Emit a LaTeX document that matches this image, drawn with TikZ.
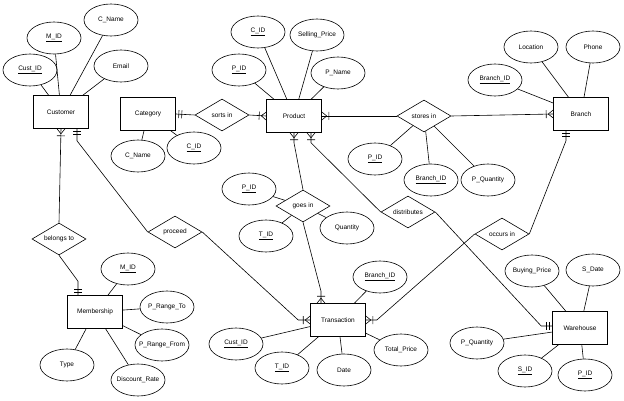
\documentclass[tikz,border=0pt]{standalone}
\usepackage{fontspec}
\setmainfont{Liberation Sans}
\usepackage{tikz}
\usetikzlibrary{shapes.geometric}
\pgfdeclarearrow{
  name=manyone,
  setup code={
    \pgfarrowssettipend{0pt}
    \pgfarrowssetlineend{0pt}
    \pgfarrowssetbackend{-8pt}
    \pgfarrowssetvisualbackend{-8pt}
    \pgfarrowshullpoint{0pt}{4pt}
    \pgfarrowshullpoint{0pt}{-4pt}
    \pgfarrowshullpoint{-8pt}{4pt}
    \pgfarrowshullpoint{-8pt}{-4pt}
  },
  drawing code={
    \pgfsetdash{}{0pt}
    \pgfpathmoveto{\pgfpoint{-5pt}{0pt}}
    \pgfpathlineto{\pgfpoint{0pt}{4pt}}
    \pgfpathmoveto{\pgfpoint{-5pt}{0pt}}
    \pgfpathlineto{\pgfpoint{0pt}{-4pt}}
    \pgfpathmoveto{\pgfpoint{-7pt}{4pt}}
    \pgfpathlineto{\pgfpoint{-7pt}{-4pt}}
    \pgfusepathqstroke
  }
}
\pgfdeclarearrow{
  name=oneone,
  setup code={
    \pgfarrowssettipend{0pt}
    \pgfarrowssetlineend{0pt}
    \pgfarrowssetbackend{-7pt}
    \pgfarrowssetvisualbackend{-7pt}
    \pgfarrowshullpoint{0pt}{4pt}
    \pgfarrowshullpoint{0pt}{-4pt}
    \pgfarrowshullpoint{-7pt}{4pt}
    \pgfarrowshullpoint{-7pt}{-4pt}
  },
  drawing code={
    \pgfsetdash{}{0pt}
    \pgfpathmoveto{\pgfpoint{-3pt}{4pt}}
    \pgfpathlineto{\pgfpoint{-3pt}{-4pt}}
    \pgfpathmoveto{\pgfpoint{-6pt}{4pt}}
    \pgfpathlineto{\pgfpoint{-6pt}{-4pt}}
    \pgfusepathqstroke
  }
}
\tikzset{
  entity/.style={draw, rectangle, minimum width=55pt, minimum height=33pt, inner sep=0pt},
  relation/.style={draw, diamond, aspect=1.7, minimum width=54pt, minimum height=32pt, inner sep=0pt},
  attrib/.style={draw, ellipse, minimum width=54pt, minimum height=32pt, inner sep=0pt, inner xsep=-10pt}
}

\begin{document}
\begin{tikzpicture}[x=1pt, y=-1pt, line width=0.6pt,
    font=\fontsize{6.5}{8}\selectfont]
    \useasboundingbox (0,0) rectangle (624,401);

    \node[entity] (cust) at (61,112) {Customer};
    \node[entity] (cat) at (148,114) {Category};
    \node[entity] (prod) at (294,116) {Product};
    \node[entity] (bra) at (581,114) {Branch};
    \node[entity] (memb) at (95,312) {Membership};
    \node[entity] (trans) at (338,320) {Transaction};
    \node[entity] (ware) at (580,328) {Warehouse};

    \node[relation] (sortsin) at (222,115) {sorts in};
    \node[relation] (storesin) at (424,116) {stores in};
    \node[relation] (goesin) at (303,206) {goes in};
    \node[relation] (distr) at (408,212) {distributes};
    \node[relation] (occurs) at (502,234) {occurs in};
    \node[relation] (belongs) at (59,239) {belongs to};
    \node[relation] (proceed) at (175,232) {proceed};

    \node[attrib] (custmid) at (54,38) {\underline{M\_ID}};
    \node[attrib] (custname) at (111,20) {C\_Name};
    \node[attrib] (custid) at (30,70) {\underline{Cust\_ID}};
    \node[attrib] (custmail) at (121,66) {Email};

    \node[attrib] (catname) at (138,156) {C\_Name};
    \node[attrib] (catid) at (194,148) {\underline{C\_ID}};

    \node[attrib] (prodcid) at (258,32) {\underline{C\_ID}};
    \node[attrib] (prodprice) at (317,35) {Selling\_Price};
    \node[attrib] (prodid) at (239,70) {\underline{P\_ID}};
    \node[attrib] (prodname) at (338,73) {P\_Name};

    \node[attrib] (stopid) at (375,159) {\underline{P\_ID}};
    \node[attrib] (stobid) at (431,180) {\underline{Branch\_ID}};
    \node[attrib] (stoqty) at (488,180) {P\_Quantity};

    \node[attrib] (braloc) at (531,47) {Location};
    \node[attrib] (braphone) at (593,47) {Phone};
    \node[attrib] (braid) at (495,80) {\underline{Branch\_ID}};

    \node[attrib] (goepid) at (249,189) {\underline{P\_ID}};
    \node[attrib] (goetid) at (266,236) {\underline{T\_ID}};
    \node[attrib] (goeqty) at (347,228) {Quantity};

    \node[attrib] (trabid) at (380,277) {\underline{Branch\_ID}};
    \node[attrib] (tracid) at (236,344) {\underline{Cust\_ID}};
    \node[attrib] (tratid) at (282,368) {\underline{T\_ID}};
    \node[attrib] (tradate) at (344,370) {Date};
    \node[attrib] (traprice) at (401,350) {Total\_Price};

    \node[attrib] (warprice) at (532,271) {Buying\_Price};
    \node[attrib] (wardate) at (593,270) {S\_Date};
    \node[attrib] (warqty) at (477,343) {P\_Quantity};
    \node[attrib] (warsid) at (525,371) {\underline{S\_ID}};
    \node[attrib] (warpid) at (585,375) {\underline{P\_ID}};

    \node[attrib] (memid) at (128,269) {\underline{M\_ID}};
    \node[attrib] (memto) at (167,307) {P\_Range\_To};
    \node[attrib] (memfrom) at (162,345) {P\_Range\_From};
    \node[attrib] (memtype) at (67,365) {Type};
    \node[attrib] (memrate) at (138,380) {Discount\_Rate};

    \path (cust) edge (custmid) edge (custname) edge (custid) edge (custmail);
    \path (cat) edge (catname) edge (catid);
    \path (prod) edge (prodcid) edge (prodprice) edge (prodid) edge (prodname);
    \path (storesin) edge (stopid) edge (stobid) edge (stoqty);
    \path (bra) edge (braloc) edge (braphone) edge (braid);
    \path (goesin) edge (goepid) edge (goetid) edge (goeqty);
    \path (trans) edge (trabid) edge (tracid) edge (tratid) edge (tradate) edge (traprice);
    \path (ware) edge (warprice) edge (wardate) edge (warqty) edge (warsid) edge (warpid);
    \path (memb) edge (memid) edge (memto) edge (memfrom) edge (memtype) edge (memrate);

    \draw[-{manyone}] (belongs.north) -- (cust.south);
    \draw[-{oneone}] (belongs.south) -- ([xshift=-17pt,yshift=14pt]memb.north) -- ([xshift=-17pt]memb.north);
    \draw[-{oneone}] (proceed.west) -- ([xshift=16pt,yshift=-12pt]cust.south) -- ([xshift=16pt]cust.south);
    \draw[-{manyone}] (proceed.east) -- ([xshift=-12pt]trans.west) -- (trans.west);
    \draw[-{oneone}] (sortsin.west) -- (cat.east);
    \draw[-{manyone}] (sortsin.east) -- (prod.west);
    \draw[-{manyone}] (storesin.west) -- (prod.east);
    \draw[-{manyone}] (storesin.east) -- (bra.west);
    \draw[-{manyone}] (goesin.north) -- ([yshift=-10pt]prod.south) -- (prod.south);
    \draw[-{manyone}] (goesin.south) -- ([xshift=-17pt,yshift=12pt]trans.north) -- ([xshift=-17pt]trans.north);
    \draw[-{manyone}] (distr.west) -- ([xshift=17pt,yshift=-10pt]prod.south) -- ([xshift=17pt]prod.south);
    \draw[-{oneone}] (distr.east) -- ([xshift=-11pt,yshift=2pt]ware.west) -- ([yshift=2pt]ware.west);
    \draw[-{oneone}] (occurs.east) -- ([xshift=-15pt,yshift=-10pt]bra.south) -- ([xshift=-15pt]bra.south);
    \draw[-{manyone}] (occurs.west) -- ([xshift=11pt]trans.east) -- (trans.east);
  \end{tikzpicture}
\end{document}
